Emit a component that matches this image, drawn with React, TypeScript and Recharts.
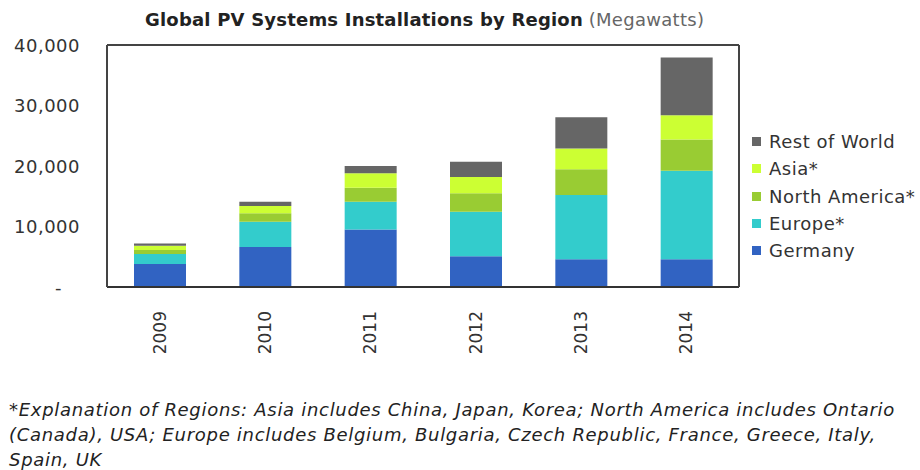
import { BarChart, Bar, XAxis, YAxis } from "recharts";

const years = ["2009", "2010", "2011", "2012", "2013", "2014"];
const germany = [3800, 6600, 9500, 5100, 4600, 4600];
const europe = [1650, 4200, 4600, 7350, 10600, 14600];
const northAmerica = [650, 1400, 2300, 3050, 4250, 5200];
const asia = [700, 1200, 2400, 2700, 3450, 4000];
const restOfWorld = [400, 700, 1200, 2500, 5150, 9550];
const yTicks = [0, 10000, 20000, 30000, 40000];

const series = [
  { key: "germany", name: "Germany", color: "#3163c2", values: germany },
  { key: "europe", name: "Europe*", color: "#33cccc", values: europe },
  { key: "northAmerica", name: "North America*", color: "#99cc33", values: northAmerica },
  { key: "asia", name: "Asia*", color: "#ccff33", values: asia },
  { key: "restOfWorld", name: "Rest of World", color: "#666666", values: restOfWorld },
];

const data = years.map((year, i) => {
  const row: Record<string, string | number> = { year };
  series.forEach((s) => (row[s.key] = s.values[i]));
  return row;
});

const font = "'DejaVu Sans', sans-serif";

function YearTick({ x, y, payload }: any) {
  return (
    <text
      transform={`translate(${x},${y + 16}) rotate(-90)`}
      textAnchor="end"
      dominantBaseline="central"
      fontFamily={font}
      fontSize={17}
      fill="#333"
    >
      {payload.value}
    </text>
  );
}

function ValueTick({ x, y, payload }: any) {
  const zero = payload.value === 0;
  return (
    <text
      x={zero ? x - 18 : x}
      y={y}
      textAnchor="end"
      dominantBaseline="central"
      fontFamily={font}
      fontSize={18}
      letterSpacing={0.5}
      fill="#333"
    >
      {zero ? "-" : payload.value.toLocaleString("en-US")}
    </text>
  );
}

export default function App() {
  const legendItems = [...series].reverse();
  return (
    <div
      style={{
        position: "absolute",
        left: 0,
        top: 0,
        width: 920,
        height: 470,
        background: "#fff",
        overflow: "hidden",
      }}
    >
      {/* Title */}
      <div
        style={{
          position: "absolute",
          left: 145,
          top: 9,
          fontFamily: font,
          fontSize: 18,
          color: "#222",
          whiteSpace: "nowrap",
        }}
      >
        <span style={{ fontWeight: "bold", letterSpacing: 0.2 }}>
          Global PV Systems Installations by Region
        </span>{" "}
        <span style={{ color: "#666", letterSpacing: 0.3 }}>(Megawatts)</span>
      </div>

      <BarChart
        width={920}
        height={380}
        data={data}
        margin={{ top: 44, right: 180, left: 0, bottom: 0 }}
      >
        <XAxis
          dataKey="year"
          height={93}
          tick={<YearTick />}
          tickLine={false}
          axisLine={{ stroke: "#333", strokeWidth: 2 }}
          interval={0}
        />
        <XAxis
          xAxisId="top"
          dataKey="year"
          orientation="top"
          height={1}
          tick={false}
          tickLine={false}
          axisLine={{ stroke: "#444", strokeWidth: 2 }}
        />
        <YAxis
          width={107}
          domain={[0, 40000]}
          ticks={yTicks}
          tick={<ValueTick />}
          tickSize={0}
          tickMargin={27}
          axisLine={{ stroke: "#444", strokeWidth: 2 }}
          tickLine={false}
        />
        <YAxis
          yAxisId="right"
          orientation="right"
          width={1}
          domain={[0, 40000]}
          tick={false}
          tickLine={false}
          axisLine={{ stroke: "#444", strokeWidth: 2 }}
        />
        {series.map((s) => (
          <Bar
            key={s.key}
            dataKey={s.key}
            name={s.name}
            stackId="a"
            fill={s.color}
            barSize={52}
            isAnimationActive={false}
          />
        ))}
      </BarChart>

      {/* Legend */}
      <div
        style={{
          position: "absolute",
          left: 752,
          top: 128,
          fontFamily: font,
          fontSize: 18,
          color: "#333",
          lineHeight: "27.3px",
          whiteSpace: "nowrap",
        }}
      >
        {legendItems.map((s) => (
          <div key={s.key} style={{ display: "flex", alignItems: "center" }}>
            <span
              style={{
                display: "inline-block",
                width: 9,
                height: 9,
                background: s.color,
                marginRight: 8,
              }}
            />
            <span style={{ letterSpacing: 0.5 }}>{s.name}</span>
          </div>
        ))}
      </div>

      {/* Footnote */}
      <div
        style={{
          position: "absolute",
          left: 9,
          top: 397,
          fontFamily: font,
          fontStyle: "italic",
          fontSize: 18,
          letterSpacing: 0.7,
          lineHeight: "25px",
          color: "#222",
          whiteSpace: "nowrap",
        }}
      >
        <div>
          *Explanation of Regions: Asia includes China, Japan, Korea; North America includes Ontario
        </div>
        <div>
          (Canada), USA; Europe includes Belgium, Bulgaria, Czech Republic, France, Greece, Italy,
        </div>
        <div>Spain, UK</div>
      </div>
    </div>
  );
}
